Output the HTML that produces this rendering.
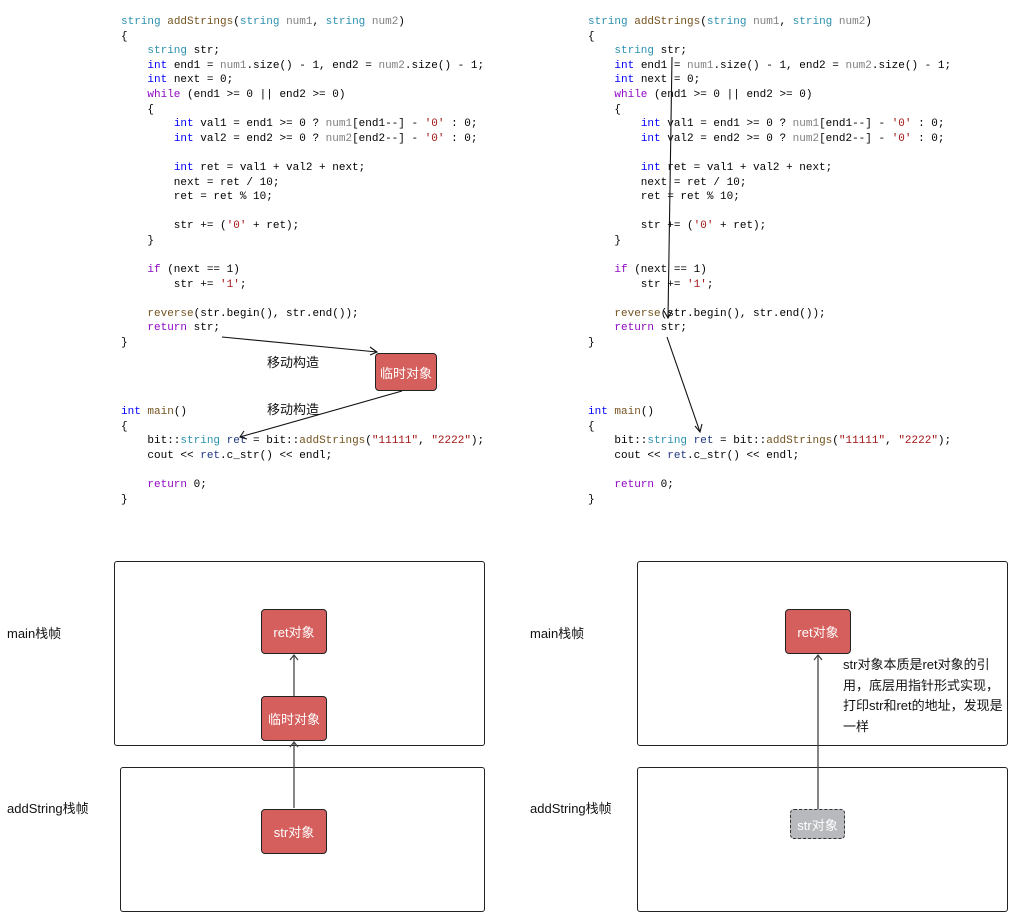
<!DOCTYPE html>
<html><head><meta charset="utf-8"><style>
body{margin:0;width:1017px;height:914px;background:#fff;position:relative;overflow:hidden;font-family:"Liberation Sans","Noto Sans CJK SC",sans-serif;}
pre{position:absolute;margin:0;font-family:"Liberation Mono",monospace;font-size:11px;line-height:14.6px;color:#000;}
.k{color:#0000ff}.p{color:#8f08c4}.t{color:#2b91af}.f{color:#74531f}.g{color:#808080}.s{color:#a31515}.v{color:#1f377f}
.box{position:absolute;border:1px solid #222;border-radius:3px;}
.n{position:absolute;background:#d55f5c;border:1.3px solid #222;border-radius:4px;color:#fff;font-size:13px;display:flex;align-items:center;justify-content:center;}
.l{position:absolute;font-size:13px;color:#111;}
svg{position:absolute;left:0;top:0;}
</style></head><body>
<pre style="left:121px;top:15px"><span class="t">string</span> <span class="f">addStrings</span>(<span class="t">string</span> <span class="g">num1</span>, <span class="t">string</span> <span class="g">num2</span>)
{
    <span class="t">string</span> str;
    <span class="k">int</span> end1 = <span class="g">num1</span>.size() - 1, end2 = <span class="g">num2</span>.size() - 1;
    <span class="k">int</span> next = 0;
    <span class="p">while</span> (end1 &gt;= 0 || end2 &gt;= 0)
    {
        <span class="k">int</span> val1 = end1 &gt;= 0 ? <span class="g">num1</span>[end1--] - <span class="s">'0'</span> : 0;
        <span class="k">int</span> val2 = end2 &gt;= 0 ? <span class="g">num2</span>[end2--] - <span class="s">'0'</span> : 0;

        <span class="k">int</span> ret = val1 + val2 + next;
        next = ret / 10;
        ret = ret % 10;

        str += (<span class="s">'0'</span> + ret);
    }

    <span class="p">if</span> (next == 1)
        str += <span class="s">'1'</span>;

    <span class="f">reverse</span>(str.begin(), str.end());
    <span class="p">return</span> str;
}</pre>
<pre style="left:121px;top:405px"><span class="k">int</span> <span class="f">main</span>()
{
    bit::<span class="t">string</span> <span class="v">ret</span> = bit::<span class="f">addStrings</span>(<span class="s">"11111"</span>, <span class="s">"2222"</span>);
    cout &lt;&lt; <span class="v">ret</span>.c_str() &lt;&lt; endl;

    <span class="p">return</span> 0;
}</pre>
<pre style="left:588px;top:15px"><span class="t">string</span> <span class="f">addStrings</span>(<span class="t">string</span> <span class="g">num1</span>, <span class="t">string</span> <span class="g">num2</span>)
{
    <span class="t">string</span> str;
    <span class="k">int</span> end1 = <span class="g">num1</span>.size() - 1, end2 = <span class="g">num2</span>.size() - 1;
    <span class="k">int</span> next = 0;
    <span class="p">while</span> (end1 &gt;= 0 || end2 &gt;= 0)
    {
        <span class="k">int</span> val1 = end1 &gt;= 0 ? <span class="g">num1</span>[end1--] - <span class="s">'0'</span> : 0;
        <span class="k">int</span> val2 = end2 &gt;= 0 ? <span class="g">num2</span>[end2--] - <span class="s">'0'</span> : 0;

        <span class="k">int</span> ret = val1 + val2 + next;
        next = ret / 10;
        ret = ret % 10;

        str += (<span class="s">'0'</span> + ret);
    }

    <span class="p">if</span> (next == 1)
        str += <span class="s">'1'</span>;

    <span class="f">reverse</span>(str.begin(), str.end());
    <span class="p">return</span> str;
}</pre>
<pre style="left:588px;top:405px"><span class="k">int</span> <span class="f">main</span>()
{
    bit::<span class="t">string</span> <span class="v">ret</span> = bit::<span class="f">addStrings</span>(<span class="s">"11111"</span>, <span class="s">"2222"</span>);
    cout &lt;&lt; <span class="v">ret</span>.c_str() &lt;&lt; endl;

    <span class="p">return</span> 0;
}</pre>

<div class="box" style="left:114px;top:561px;width:369px;height:183px"></div>
<div class="box" style="left:120px;top:767px;width:363px;height:143px"></div>
<div class="box" style="left:637px;top:561px;width:369px;height:183px"></div>
<div class="box" style="left:637px;top:767px;width:369px;height:143px"></div>

<div class="l" style="left:7px;top:623px">main栈帧</div>
<div class="l" style="left:7px;top:798px">addString栈帧</div>
<div class="l" style="left:530px;top:623px">main栈帧</div>
<div class="l" style="left:530px;top:798px">addString栈帧</div>
<div class="l" style="left:267px;top:352px">移动构造</div>
<div class="l" style="left:267px;top:399px">移动构造</div>
<div class="l" style="left:843px;top:655px;line-height:20.5px;width:165px">str对象本质是ret对象的引用，底层用指针形式实现，打印str和ret的地址，发现是一样</div>

<div class="n" style="left:375px;top:353px;width:60px;height:36px">临时对象</div>
<div class="n" style="left:261px;top:609px;width:64px;height:43px">ret对象</div>
<div class="n" style="left:261px;top:696px;width:64px;height:43px">临时对象</div>
<div class="n" style="left:261px;top:809px;width:64px;height:43px">str对象</div>
<div class="n" style="left:785px;top:609px;width:64px;height:43px">ret对象</div>
<div class="n" style="left:790px;top:809px;width:53px;height:28px;background:#b8b9bd;border:1.3px dashed #333;">str对象</div>

<svg width="1017" height="914">
<g stroke="#111" stroke-width="1.1" fill="none">
<line x1="222" y1="337" x2="377" y2="352"/><polyline points="370,347 377,352 370,355"/>
<line x1="402" y1="391" x2="240" y2="437"/><polyline points="244,431 240,437 247,439"/>
<line x1="672" y1="57" x2="668" y2="318"/><polyline points="664,311 668,318 672,311"/>
<line x1="667" y1="337" x2="700" y2="432"/><polyline points="695,426 700,432 702,424"/>
<g stroke="#444" stroke-width="1.3">
<line x1="294" y1="808" x2="294" y2="742"/><polyline points="290,747 294,742 298,747"/>
<line x1="294" y1="696" x2="294" y2="655"/><polyline points="290,660 294,655 298,660"/>
<line x1="818" y1="809" x2="818" y2="655"/><polyline points="814,660 818,655 822,660"/>
</g></g></svg>
</body></html>
